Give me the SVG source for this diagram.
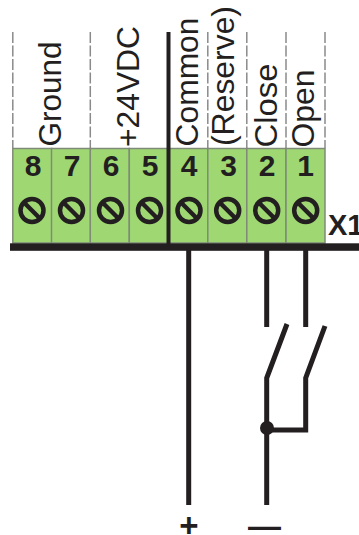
<svg xmlns="http://www.w3.org/2000/svg" width="359" height="535" viewBox="0 0 359 535">
<style>
text{font-family:"Liberation Sans",Arial,sans-serif;fill:#231f20}
.cell{fill:#9fd873;stroke:#7f8a78;stroke-width:1.5}
.num{font-size:30px;font-weight:700;text-anchor:middle}
.lab{font-size:31.5px}
.dash{stroke:#8a8a8a;stroke-width:1.5;stroke-dasharray:11 2.5;fill:none}
.wire{stroke:#231f20;stroke-width:5;fill:none}
.screw{fill:none;stroke:#231f20;stroke-width:4.5}
</style>
<defs>
<g id="screw"><circle class="screw" r="11.5"/><path class="screw" d="M-8-8L8 8"/></g>
</defs>
<rect width="359" height="535" fill="#fff"/>
<g id="dividers">
<path class="dash" d="M12.8 32V148M90.3 32V148M207.8 32V148M246.8 32V148M286 32V148M325 32V148"/>
</g>
<g id="t8"><rect class="cell" x="12.8" y="148.5" width="39" height="94.5"/><text class="num" x="33" y="175.5">8</text><use href="#screw" x="32" y="210.5"/></g>
<g id="t7"><rect class="cell" x="51.5" y="148.5" width="39" height="94.5"/><text class="num" x="72" y="175.5">7</text><use href="#screw" x="71.5" y="210.5"/></g>
<g id="t6"><rect class="cell" x="90.3" y="148.5" width="39" height="94.5"/><text class="num" x="111" y="175.5">6</text><use href="#screw" x="110.5" y="210.5"/></g>
<g id="t5"><rect class="cell" x="129.3" y="148.5" width="39" height="94.5"/><text class="num" x="150" y="175.5">5</text><use href="#screw" x="149.5" y="210.5"/></g>
<g id="t4"><rect class="cell" x="168.5" y="148.5" width="39.3" height="94.5"/><text class="num" x="189" y="175.5">4</text><use href="#screw" x="189" y="210.5"/></g>
<g id="t3"><rect class="cell" x="207.8" y="148.5" width="39" height="94.5"/><text class="num" x="228.5" y="175.5">3</text><use href="#screw" x="227.7" y="210.5"/></g>
<g id="t2"><rect class="cell" x="246.8" y="148.5" width="39.2" height="94.5"/><text class="num" x="267" y="175.5">2</text><use href="#screw" x="266.7" y="210.5"/></g>
<g id="t1"><rect class="cell" x="286" y="148.5" width="39" height="94.5"/><text class="num" x="305.5" y="175.5">1</text><use href="#screw" x="305.7" y="210.5"/></g>
<g id="labels">
<text class="lab" transform="translate(60.5 146.5) rotate(-90)" textLength="105" lengthAdjust="spacingAndGlyphs">Ground</text>
<text class="lab" transform="translate(139 147) rotate(-90)" textLength="121" lengthAdjust="spacingAndGlyphs">+24VDC</text>
<text class="lab" transform="translate(197.5 146.5) rotate(-90)" textLength="129" lengthAdjust="spacingAndGlyphs">Common</text>
<text class="lab" transform="translate(234 146) rotate(-90)" textLength="140" lengthAdjust="spacingAndGlyphs">(Reserve)</text>
<text class="lab" transform="translate(276.5 147.5) rotate(-90)" textLength="84" lengthAdjust="spacingAndGlyphs">Close</text>
<text class="lab" transform="translate(313.5 147.5) rotate(-90)" textLength="78" lengthAdjust="spacingAndGlyphs">Open</text>
</g>
<g id="connectors">
<path d="M168.5 32V244" stroke="#231f20" stroke-width="4" fill="none"/>
<rect x="10" y="243.3" width="349" height="7.5" fill="#231f20"/>
<path class="wire" d="M188.7 250V505M266.7 250V327M305.7 250V327M287 324L266.7 378V505M325 326L305.7 378V430H266.7"/>
<circle cx="267" cy="428" r="7" fill="#231f20"/>
</g>
<g id="x1"><text x="328" y="234.5" font-size="29" font-weight="700">X1</text></g>
<g id="plus"><text x="189" y="537" font-size="33" font-weight="700" text-anchor="middle">+</text></g>
<g id="minus"><text x="264.5" y="537" font-size="33" font-weight="700" text-anchor="middle">—</text></g>
</svg>
